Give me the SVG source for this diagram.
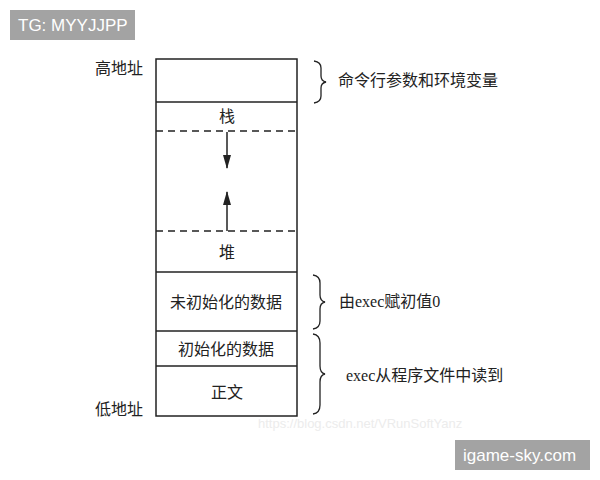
<svg xmlns="http://www.w3.org/2000/svg" width="600" height="480" viewBox="0 0 600 480">
<style>
.t{font-family:"Liberation Serif","Noto Sans CJK SC",serif;font-size:16px;fill:#222}
.box{fill:#fff;stroke:#222;stroke-width:1.5}
.ln{stroke:#222;stroke-width:1.5;fill:none}
.dash{stroke:#222;stroke-width:1.5;stroke-dasharray:7,5;fill:none}
.br{stroke:#222;stroke-width:1.3;fill:none}
.tag{fill:#a3a3a3}
.tagt{font-family:"Liberation Sans",sans-serif;font-size:17px;fill:#fff}
</style>
<defs>
<marker id="ah" viewBox="0 0 14 8" refX="13" refY="4" markerWidth="14" markerHeight="8" orient="auto" markerUnits="userSpaceOnUse">
<path d="M0,0 L14,4 L0,8 z" fill="#222"/>
</marker>
</defs>
<rect width="600" height="480" fill="#fff"/>
<g id="tag1"><rect class="tag" x="10" y="10" width="125" height="30"/><text class="tagt" x="18" y="31">TG: MYYJJPP</text></g>
<g id="tag2"><rect class="tag" x="455" y="440" width="135" height="30"/><text class="tagt" x="463" y="461">igame-sky.com</text></g>
<g id="memory">
<rect class="box" x="156" y="59" width="141" height="357"/>
</g>
<g id="args"><text class="t" x="95" y="74">高地址</text></g>
<g id="stack"><text class="t" x="227" y="122" text-anchor="middle">栈</text></g>
<g id="heap"><text class="t" x="227" y="258" text-anchor="middle">堆</text></g>
<g id="bss"><text class="t" x="226" y="308" text-anchor="middle">未初始化的数据</text></g>
<g id="data"><text class="t" x="226" y="355" text-anchor="middle">初始化的数据</text></g>
<g id="text"><text class="t" x="227" y="398" text-anchor="middle">正文</text></g>
<g id="low"><text class="t" x="95" y="415">低地址</text></g>
<g id="desc1"><text class="t" x="338" y="86">命令行参数和环境变量</text></g>
<g id="desc2"><text class="t" x="339" y="307">由exec赋初值0</text></g>
<g id="desc3"><text class="t" x="346" y="381">exec从程序文件中读到</text></g>
<g id="watermark"><text x="258" y="428" font-family="Liberation Sans,sans-serif" font-size="13" fill="#ececec">https://blog.csdn.net/VRunSoftYanz</text></g>
<g id="connectors">
<line class="ln" x1="156" y1="102" x2="297" y2="102"/>
<line class="dash" x1="156" y1="131" x2="297" y2="131"/>
<line class="dash" x1="156" y1="231" x2="297" y2="231"/>
<line class="ln" x1="156" y1="272" x2="297" y2="272"/>
<line class="ln" x1="156" y1="331" x2="297" y2="331"/>
<line class="ln" x1="156" y1="366" x2="297" y2="366"/>
<line class="ln" x1="227" y1="132" x2="227" y2="168" stroke-width="1.2" marker-end="url(#ah)"/>
<line class="ln" x1="227" y1="231" x2="227" y2="192" stroke-width="1.2" marker-end="url(#ah)"/>
<path class="br" d="M314,61 Q321,62 321,68 L321,76 Q321,81 326,82 Q321,83 321,88 L321,96 Q321,102 314,103"/>
<path class="br" d="M313,275 Q320,276 320,283 L320,295 Q320,301 325,302 Q320,303 320,309 L320,321 Q320,328 313,329"/>
<path class="br" d="M313,334 Q320,335 320,343 L320,366 Q320,373 325,374 Q320,375 320,382 L320,405 Q320,413 313,414"/>
</g>
</svg>
